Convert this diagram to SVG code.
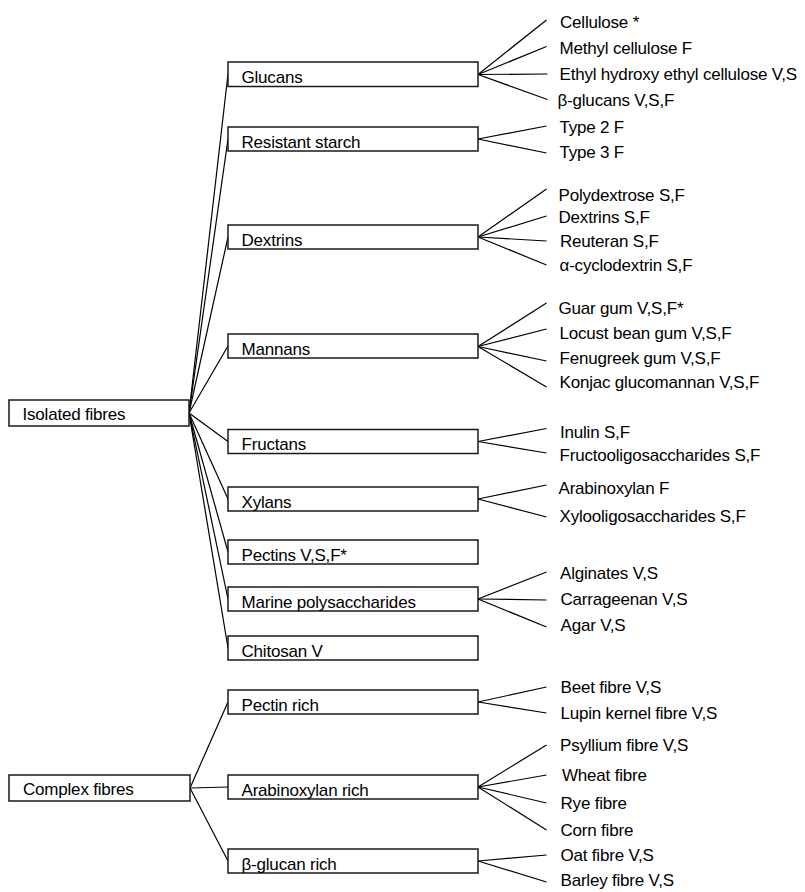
<svg xmlns="http://www.w3.org/2000/svg" width="805" height="892" viewBox="0 0 805 892">
<style>
  .box { fill: #ffffff; stroke: #1a1a1a; stroke-width: 1.5; }
  .lbl { font-family: "Liberation Sans", Arial, sans-serif; font-size: 17px; letter-spacing: -0.2px; fill: #000000; }
  .con line { stroke: #000000; stroke-width: 1.2; }
</style>
<rect width="805" height="892" fill="#ffffff"/>
<g id="connectors" class="con">
  <line x1="189" y1="413" x2="228" y2="74"/>
  <line x1="189" y1="413" x2="228" y2="139"/>
  <line x1="189" y1="413" x2="228" y2="237"/>
  <line x1="189" y1="413" x2="228" y2="346"/>
  <line x1="189" y1="413" x2="228" y2="441.5"/>
  <line x1="189" y1="413" x2="228" y2="499"/>
  <line x1="189" y1="413" x2="228" y2="552"/>
  <line x1="189" y1="413" x2="228" y2="599"/>
  <line x1="189" y1="413" x2="228" y2="648"/>
  <line x1="190" y1="788" x2="228" y2="702"/>
  <line x1="190" y1="788" x2="228" y2="787"/>
  <line x1="190" y1="788" x2="228" y2="861"/>
  <line x1="478" y1="74.5" x2="546.5" y2="20"/>
  <line x1="478" y1="74.5" x2="546.5" y2="46.5"/>
  <line x1="478" y1="74.5" x2="547.5" y2="74"/>
  <line x1="478" y1="74.5" x2="547.5" y2="99.5"/>
  <line x1="478" y1="139" x2="546.5" y2="126"/>
  <line x1="478" y1="139" x2="546.5" y2="153"/>
  <line x1="478" y1="237" x2="546.5" y2="189"/>
  <line x1="478" y1="237" x2="546.5" y2="216"/>
  <line x1="478" y1="237" x2="546.5" y2="241"/>
  <line x1="478" y1="237" x2="546.5" y2="265"/>
  <line x1="478" y1="346.5" x2="546.5" y2="303"/>
  <line x1="478" y1="346.5" x2="546.5" y2="329"/>
  <line x1="478" y1="346.5" x2="546.5" y2="361"/>
  <line x1="478" y1="346.5" x2="546.5" y2="387"/>
  <line x1="478" y1="441.5" x2="546.5" y2="428.5"/>
  <line x1="478" y1="441.5" x2="546.5" y2="453"/>
  <line x1="478" y1="499" x2="546.5" y2="485"/>
  <line x1="478" y1="499" x2="546.5" y2="517"/>
  <line x1="478" y1="599" x2="546.5" y2="572"/>
  <line x1="478" y1="599" x2="546.5" y2="600"/>
  <line x1="478" y1="599" x2="546.5" y2="627"/>
  <line x1="478" y1="702" x2="546.5" y2="687"/>
  <line x1="478" y1="702" x2="546.5" y2="713"/>
  <line x1="478" y1="787" x2="546.5" y2="745"/>
  <line x1="478" y1="787" x2="546.5" y2="775"/>
  <line x1="478" y1="787" x2="546.5" y2="803"/>
  <line x1="478" y1="787" x2="546.5" y2="830"/>
  <line x1="478" y1="861" x2="546.5" y2="855"/>
  <line x1="478" y1="861" x2="546.5" y2="882"/>
</g>
<g id="isolated-fibres"><rect class="box" x="9" y="400" width="180" height="26"/><text class="lbl" x="22.5" y="419.5">Isolated fibres</text></g>
<g id="complex-fibres"><rect class="box" x="9" y="775" width="181" height="26"/><text class="lbl" x="23" y="795">Complex fibres</text></g>
<g id="glucans"><rect class="box" x="228" y="62" width="250" height="24.5"/><text class="lbl" x="241.5" y="82.5">Glucans</text></g>
<g id="resistant-starch"><rect class="box" x="228" y="127" width="250" height="24"/><text class="lbl" x="241.5" y="147.5">Resistant starch</text></g>
<g id="dextrins"><rect class="box" x="228" y="225" width="250" height="24"/><text class="lbl" x="241.5" y="245.5">Dextrins</text></g>
<g id="mannans"><rect class="box" x="228" y="334" width="250" height="24"/><text class="lbl" x="241.5" y="354.5">Mannans</text></g>
<g id="fructans"><rect class="box" x="228" y="429.5" width="250" height="24"/><text class="lbl" x="241.5" y="450">Fructans</text></g>
<g id="xylans"><rect class="box" x="228" y="487" width="250" height="24"/><text class="lbl" x="241.5" y="507.5">Xylans</text></g>
<g id="pectins"><rect class="box" x="228" y="540" width="250" height="24"/><text class="lbl" x="241.5" y="560.5">Pectins V,S,F*</text></g>
<g id="marine-polysaccharides"><rect class="box" x="228" y="587" width="250" height="24"/><text class="lbl" x="241.5" y="607.5">Marine polysaccharides</text></g>
<g id="chitosan"><rect class="box" x="228" y="636" width="250" height="24"/><text class="lbl" x="241.5" y="656.5">Chitosan V</text></g>
<g id="pectin-rich"><rect class="box" x="228" y="690" width="250" height="24"/><text class="lbl" x="241.5" y="710.5">Pectin rich</text></g>
<g id="arabinoxylan-rich"><rect class="box" x="228" y="775" width="250" height="24"/><text class="lbl" x="241.5" y="795.5">Arabinoxylan rich</text></g>
<g id="beta-glucan-rich"><rect class="box" x="228" y="849" width="250" height="24"/><text class="lbl" x="241.5" y="869.5">β-glucan rich</text></g>
<g id="leaves">
  <text class="lbl" x="560" y="28">Cellulose *</text>
  <text class="lbl" x="559.5" y="54">Methyl cellulose F</text>
  <text class="lbl" x="559.5" y="80">Ethyl hydroxy ethyl cellulose V,S</text>
  <text class="lbl" x="557.5" y="105.5">β-glucans V,S,F</text>
  <text class="lbl" x="559.5" y="133">Type 2 F</text>
  <text class="lbl" x="559.5" y="158">Type 3 F</text>
  <text class="lbl" x="558.5" y="201">Polydextrose S,F</text>
  <text class="lbl" x="558.5" y="222.5">Dextrins S,F</text>
  <text class="lbl" x="560" y="247">Reuteran S,F</text>
  <text class="lbl" x="559.5" y="271">α-cyclodextrin S,F</text>
  <text class="lbl" x="558.5" y="314">Guar gum V,S,F*</text>
  <text class="lbl" x="559.5" y="338.5">Locust bean gum V,S,F</text>
  <text class="lbl" x="559.5" y="364">Fenugreek gum V,S,F</text>
  <text class="lbl" x="559.5" y="388">Konjac glucomannan V,S,F</text>
  <text class="lbl" x="560" y="437.5">Inulin S,F</text>
  <text class="lbl" x="559.5" y="461">Fructooligosaccharides S,F</text>
  <text class="lbl" x="558.5" y="493.5">Arabinoxylan F</text>
  <text class="lbl" x="559.5" y="522">Xylooligosaccharides S,F</text>
  <text class="lbl" x="560" y="579">Alginates V,S</text>
  <text class="lbl" x="560.5" y="605">Carrageenan V,S</text>
  <text class="lbl" x="560.5" y="631">Agar V,S</text>
  <text class="lbl" x="560.5" y="693">Beet fibre V,S</text>
  <text class="lbl" x="560.5" y="719">Lupin kernel fibre V,S</text>
  <text class="lbl" x="560" y="751">Psyllium fibre V,S</text>
  <text class="lbl" x="562" y="781">Wheat fibre</text>
  <text class="lbl" x="560.5" y="809">Rye fibre</text>
  <text class="lbl" x="560.5" y="836">Corn fibre</text>
  <text class="lbl" x="560.5" y="861">Oat fibre V,S</text>
  <text class="lbl" x="560.5" y="886">Barley fibre V,S</text>
</g>
</svg>
